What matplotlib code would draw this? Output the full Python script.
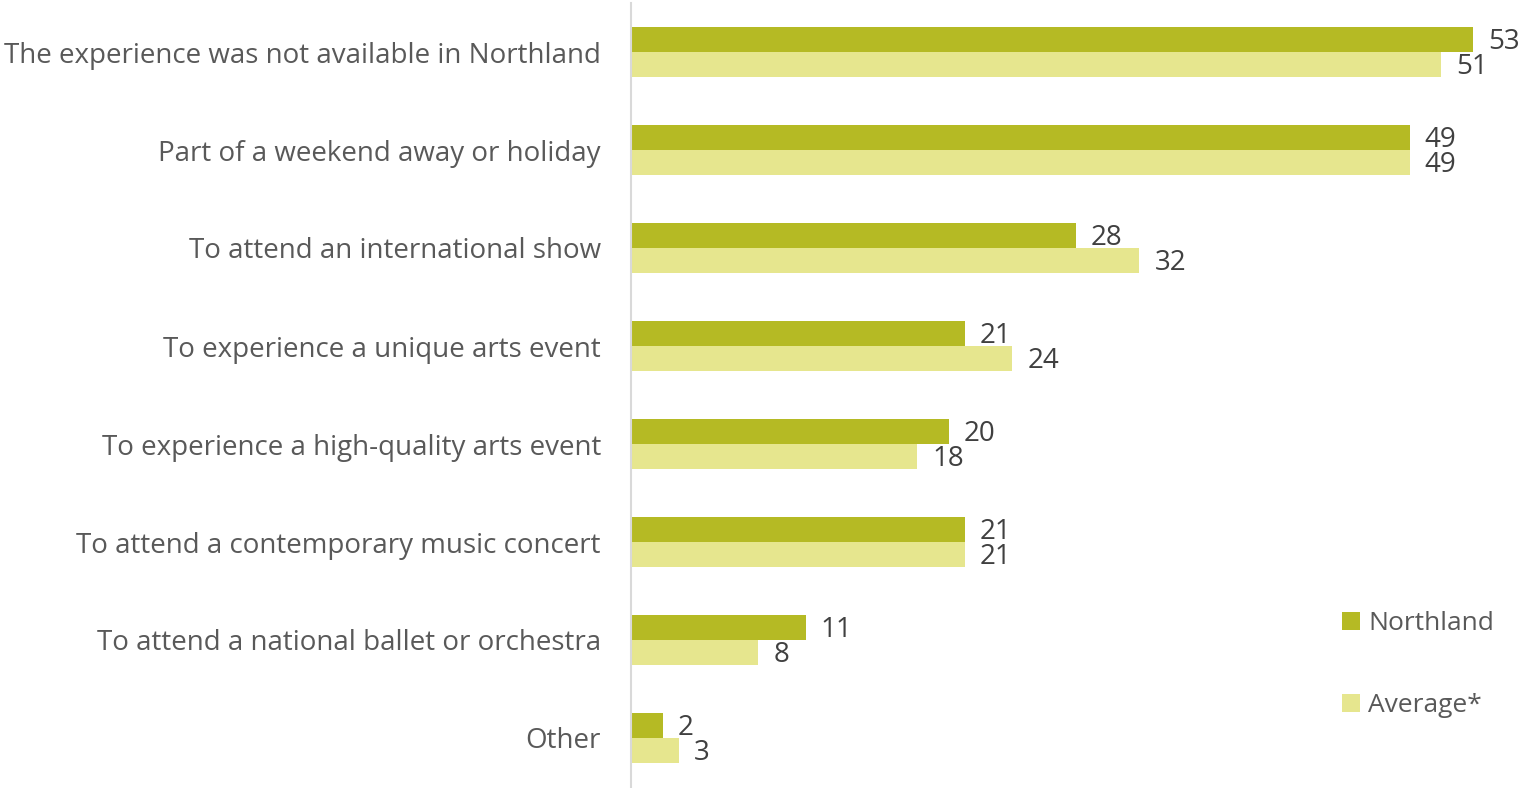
import matplotlib.pyplot as plt
import matplotlib as mpl
import numpy as np

mpl.rcParams['font.family'] = ['Open Sans', 'DejaVu Sans']

categories = ['The experience was not available in Northland',
              'Part of a weekend away or holiday',
              'To attend an international show',
              'To experience a unique arts event',
              'To experience a high-quality arts event',
              'To attend a contemporary music concert',
              'To attend a national ballet or orchestra',
              'Other']
northland = [53, 49, 28, 21, 20, 21, 11, 2]
average = [51, 49, 32, 24, 18, 21, 8, 3]

dark = '#B5BA24'
light = '#E6E68E'
txt = '#595959'

fig = plt.figure(figsize=(15.22, 7.88), dpi=100)
ax = fig.add_axes([631/1522, 1/788, 56*15.89/1522, 784/788])

y = np.arange(len(categories))
h = 25/98
ax.barh(y - h/2, northland, height=h, color=dark, label='Northland')
ax.barh(y + h/2, average, height=h, color=light, label='Average*')

# value labels, nudged down a touch so they sit on the bar centre
dy = 0.03
for yi, v in zip(y, northland):
    ax.text(v + 0.95, yi - h/2 + dy, str(v), va='center', ha='left', fontsize=20, color='#404040')
for yi, v in zip(y, average):
    ax.text(v + 0.95, yi + h/2 + dy, str(v), va='center', ha='left', fontsize=20, color='#404040')

ax.set_xlim(0, 56)
ax.set_ylim(len(categories) - 0.5, -0.5)
ax.set_yticks(y)
ax.set_yticklabels(categories, fontsize=20, color=txt)
ax.tick_params(axis='y', length=0, pad=21.6)
ax.set_xticks([])
for s in ['top', 'right', 'bottom']:
    ax.spines[s].set_visible(False)
ax.spines['left'].set_color('#D9D9D9')
ax.spines['left'].set_linewidth(1.5)

leg = ax.legend(loc='upper left', bbox_to_anchor=(1329/1522, 1 - 598/788),
                bbox_transform=fig.transFigure, frameon=False, fontsize=19,
                handlelength=0.68, handleheight=0.68, handletextpad=0.3,
                labelspacing=2.15, borderpad=0)
for t in leg.get_texts():
    t.set_color(txt)

fig.savefig('out.png', dpi=100)
